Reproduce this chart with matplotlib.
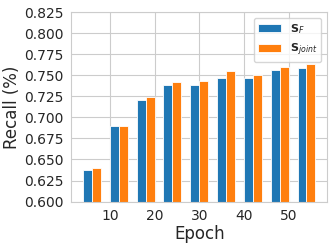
import matplotlib
matplotlib.use("Agg")
import matplotlib.pyplot as plt
import seaborn as sns
import numpy as np

sns.set_style("whitegrid")
plt.rcParams['font.family'] = ['DejaVu Sans']

epochs = [6, 12, 18, 24, 30, 36, 42, 48, 54]
recall_sf = [0.637, 0.690, 0.721, 0.738, 0.738, 0.747, 0.747, 0.756, 0.759]
recall_joint = [0.640, 0.690, 0.724, 0.742, 0.743, 0.755, 0.750, 0.760, 0.763]
yticks = [0.600, 0.625, 0.650, 0.675, 0.700, 0.725, 0.750, 0.775, 0.800, 0.825]
xticks = [10, 20, 30, 40, 50]

fig, ax = plt.subplots(figsize=(3.32, 2.45), dpi=100)
x = np.array(epochs)
w = 2
ax.bar(x - w/2, recall_sf, width=w, color='#1f77b4', edgecolor='white', linewidth=0.6, label=r'$\mathbf{S}_F$')
ax.bar(x + w/2, recall_joint, width=w, color='#ff7f0e', edgecolor='white', linewidth=0.6, label=r'$\mathbf{S}_{joint}$')
ax.set_ylim(0.600, 0.825)
ax.set_yticks(yticks)
ax.set_yticklabels([f"{v:.3f}" for v in yticks])
ax.set_xticks(xticks)
ax.tick_params(axis='both', labelsize=10, pad=2)
ax.set_xlabel('Epoch', fontsize=12, labelpad=1)
ax.set_ylabel('Recall (%)', fontsize=12, labelpad=2)
ax.legend(loc='upper right', fontsize=8, frameon=True)
fig.subplots_adjust(left=0.215, right=0.985, top=0.951, bottom=0.177)
fig.savefig('out.png', dpi=100)
